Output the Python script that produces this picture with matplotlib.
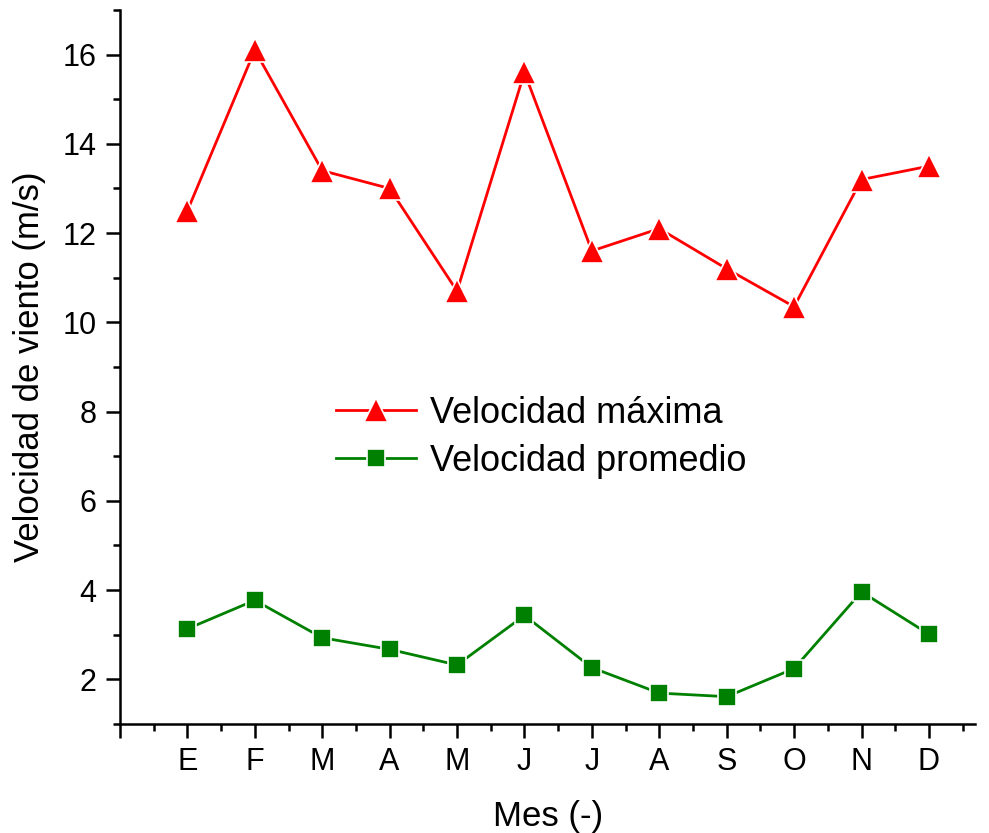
import matplotlib.pyplot as plt
from matplotlib.ticker import MultipleLocator

plt.rcParams['font.family'] = ['Liberation Sans', 'DejaVu Sans']

# Datos
meses = ['E', 'F', 'M', 'A', 'M', 'J', 'J', 'A', 'S', 'O', 'N', 'D']
vel_maxima = [12.5, 16.1, 13.4, 13.0, 10.7, 15.6, 11.6, 12.1, 11.2, 10.35, 13.2, 13.5]
vel_promedio = [3.13, 3.77, 2.93, 2.67, 2.32, 3.43, 2.26, 1.69, 1.61, 2.24, 3.96, 3.01]

x = list(range(1, len(meses) + 1))

fig = plt.figure(figsize=(9.89, 8.33), dpi=100)
ax = fig.add_axes([0.1213, 0.131, 0.865, 0.857])

ax.plot(x, vel_maxima, color='red', lw=2, marker='^', markersize=17,
        markeredgecolor='white', markeredgewidth=1.2, label='Velocidad máxima')
ax.plot(x, vel_promedio, color='green', lw=2, marker='s', markersize=13,
        markeredgecolor='white', markeredgewidth=1.2, label='Velocidad promedio')

ax.set_xlim(0, 12.69)
ax.set_ylim(1, 17)
ax.set_xticks([0] + x)
ax.set_xticklabels([''] + meses)
ax.xaxis.set_minor_locator(MultipleLocator(0.5))
ax.yaxis.set_major_locator(MultipleLocator(2))
ax.yaxis.set_minor_locator(MultipleLocator(1))

for s in ['top', 'right']:
    ax.spines[s].set_visible(False)
for s in ['left', 'bottom']:
    ax.spines[s].set_linewidth(1.8)

ax.tick_params(which='major', length=10, width=1.8, labelsize=22, pad=7)
ax.tick_params(which='minor', length=5, width=1.8)

ax.set_xlabel('Mes (-)', fontsize=25, labelpad=16)
ax.set_ylabel('Velocidad de viento (m/s)', fontsize=25, labelpad=12)

ax.legend(loc='upper left', bbox_to_anchor=(0.215, 0.505), frameon=False,
          fontsize=26, handlelength=2.2, handletextpad=0.4, labelspacing=0.35)

fig.savefig('out.png', dpi=100)
